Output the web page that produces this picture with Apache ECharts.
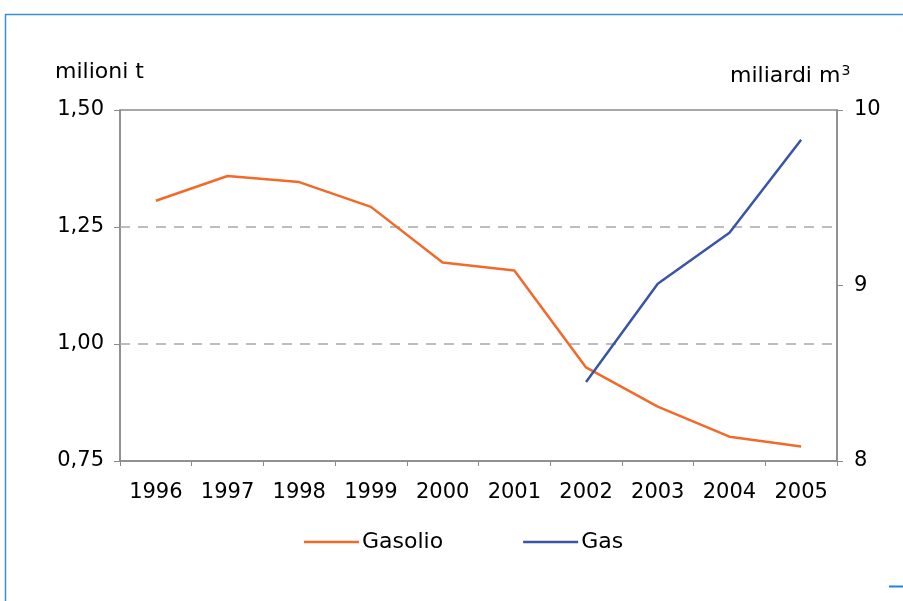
<!DOCTYPE html>
<html>
<head>
<meta charset="utf-8">
<script src="https://cdn.jsdelivr.net/npm/echarts@6/dist/echarts.min.js"></script>
<style>
  html, body { margin: 0; padding: 0; background: #fff; }
  #chart { width: 903px; height: 601px; }
</style>
</head>
<body>
<div id="chart"></div>
<script>
// dati
var years = ['1996', '1997', '1998', '1999', '2000', '2001', '2002', '2003', '2004', '2005'];
var gasolio = [1.306, 1.359, 1.346, 1.293, 1.174, 1.157, 0.950, 0.866, 0.802, 0.781];   // milioni t
var gas = [null, null, null, null, null, null, 8.45, 9.01, 9.30, 9.83];               // miliardi m3
var gridLevels = [1.00, 1.25];

var font = 'DejaVu Sans, Verdana, sans-serif';
var axisGrey = '#8a8a8a';

var chart = echarts.init(document.getElementById('chart'));

var option = {
    animation: false,
    backgroundColor: '#fff',
    textStyle: { fontFamily: font, color: '#000' },
    grid: {
        left: 120,
        right: 66,
        top: 110,
        bottom: 140,
        show: true,
        borderColor: axisGrey,
        borderWidth: 1.5
    },
    legend: {
        left: 299,
        top: 526,
        icon: 'rect',
        itemWidth: 55,
        itemHeight: 2.5,
        itemGap: 80,
        textStyle: { fontFamily: font, fontSize: 22, color: '#000', padding: [0, 0, 0, -2] },
        data: ['Gasolio', 'Gas']
    },
    xAxis: {
        type: 'category',
        data: years,
        boundaryGap: true,
        axisLine: { lineStyle: { color: axisGrey, width: 1.5 } },
        axisTick: { show: true, length: 5, lineStyle: { color: axisGrey } },
        axisLabel: { fontFamily: font, fontSize: 21, color: '#000', margin: 21 },
        splitLine: { show: false }
    },
    yAxis: [
        {
            type: 'value',
            min: 0.75,
            max: 1.5,
            interval: 0.25,
            axisLine: { show: true, lineStyle: { color: axisGrey, width: 1.5 } },
            axisTick: { show: true, length: 6, lineStyle: { color: axisGrey } },
            axisLabel: {
                fontFamily: font, fontSize: 21, color: '#000', margin: 16,
                formatter: function (v) { return v.toFixed(2).replace('.', ','); }
            },
            splitLine: { show: false }
        },
        {
            type: 'value',
            min: 8,
            max: 10,
            interval: 1,
            position: 'right',
            axisLine: { show: true, lineStyle: { color: axisGrey, width: 1.5 } },
            axisTick: { show: true, length: 6, lineStyle: { color: axisGrey } },
            axisLabel: { fontFamily: font, fontSize: 21, color: '#000', margin: 17 },
            splitLine: { show: false }
        }
    ],
    graphic: [
        // cornice blu
        {
            type: 'rect', silent: true,
            shape: { x: 5.5, y: 14.5, width: 1000, height: 1000 },
            style: { fill: 'none', stroke: '#3a90d8', lineWidth: 1.5 }
        },
        {
            type: 'line', silent: true,
            shape: { x1: 889, y1: 586.5, x2: 903, y2: 586.5 },
            style: { stroke: '#1f86d6', lineWidth: 2 }
        },
        {
            type: 'text', left: 55, top: 61,
            style: { text: 'milioni t', font: '22px ' + font, fill: '#000' }
        },
        {
            type: 'text', left: 730, top: 64,
            style: {
                text: 'miliardi m{sup|3}', font: '22px ' + font, fill: '#000',
                rich: { sup: { fontSize: 14, fontFamily: font, verticalAlign: 'top', padding: [0, 0, 10, 1] } }
            }
        }
    ],
    series: [
        {
            name: 'Gasolio',
            type: 'line',
            yAxisIndex: 0,
            data: gasolio,
            symbol: 'none',
            color: '#f26a2a',
            lineStyle: { width: 2.5, color: '#f26a2a' },
            z: 3,
            markLine: {
                silent: true,
                symbol: 'none',
                label: { show: false },
                lineStyle: { color: '#a8a8a8', type: [10, 8], width: 1.5 },
                data: gridLevels.map(function (v) { return { yAxis: v }; }),
                z: 1
            }
        },
        {
            name: 'Gas',
            type: 'line',
            yAxisIndex: 1,
            data: gas,
            symbol: 'none',
            color: '#3a54a6',
            lineStyle: { width: 2.5, color: '#3a54a6' },
            z: 4
        }
    ]
};

chart.setOption(option);
</script>
</body>
</html>
